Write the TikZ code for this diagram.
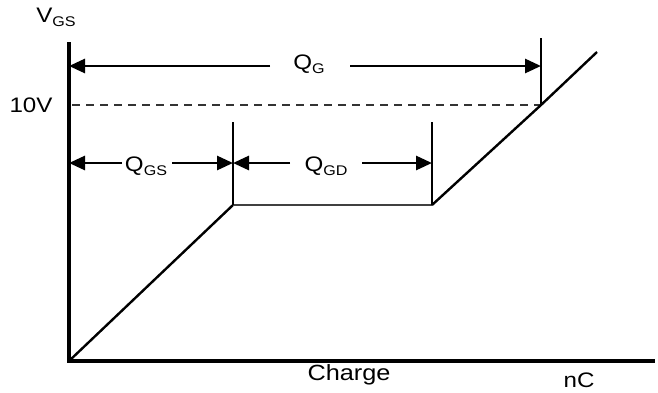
\documentclass[tikz,border=0pt]{standalone}
\usepackage{fontspec}
\setmainfont{Liberation Sans}[FakeStretch=1.15]
\usetikzlibrary{arrows.meta}
\newcommand{\lowsub}[1]{\raisebox{-4pt}{\fontsize{14}{14}\selectfont #1}}
\begin{document}
\begin{tikzpicture}[x=1pt,y=-1pt,
  axis/.style={line width=3.4pt},
  dim/.style={line width=2.8pt,-{Triangle[length=16pt,width=14pt]}},
  tickline/.style={line width=2.8pt},
  curve/.style={line width=2.4pt,line join=round},
  plateau/.style={line width=1.8pt,black!75},
  guide/.style={dash pattern=on 8pt off 6pt,line width=2.2pt,black!80},
  lab/.style={font=\fontsize{21}{21}\selectfont,inner sep=0pt}]
\useasboundingbox (0,0) rectangle (658,392);
% coordinates
\coordinate (O) at (69,361);
\coordinate (Ytop) at (69,42);
\coordinate (Xend) at (655,361);
\coordinate (P1) at (233,205);
\coordinate (P2) at (432,205);
\coordinate (P3) at (541,105);
\coordinate (P4) at (597,52);
\coordinate (T1) at (233,122);
\coordinate (T2) at (432,122);
\coordinate (TG) at (541,38);
\coordinate (D0) at (72,105);
\coordinate (YG) at (69,66);
\coordinate (YS) at (69,163);
\coordinate (M1) at (233,163);
\coordinate (M2) at (432,163);
\coordinate (MG) at (541,66);
% labels
\node[lab] (vgs) at (56,17) {V\lowsub{GS}};
\node[lab] (tenv) at (31,105) {10V};
\node[lab] (qg) at (309,64) {Q\lowsub{G}};
\node[lab] (qgs) at (146,166) {Q\lowsub{GS}};
\node[lab] (qgd) at (326,166) {Q\lowsub{GD}};
\node[lab,font=\fontsize{22}{22}\selectfont] (charge) at (349,375) {Charge};
\node[lab] (nc) at (579,380) {nC};
% axes
\draw[axis] (Ytop) -- (O) -- (Xend);
% dashed 10V line
\draw[guide] (D0) -- (P3);
% gate charge curve
\draw[curve] (O) -- (P1);
\draw[plateau] (P1) -- (P2);
\draw[curve] (P2) -- (P3) -- (P4);
% ticks
\draw[tickline] (T1) -- (P1);
\draw[tickline] (T2) -- (P2);
\draw[tickline] (TG) -- (P3);
% dimension arrows
\draw[dim] (270,66) -- (YG);
\draw[dim] (350,66) -- (MG);
\draw[dim] (122,163) -- (YS);
\draw[dim] (172,163) -- (M1);
\draw[dim] (290,163) -- (M1);
\draw[dim] (362,163) -- (M2);
\end{tikzpicture}
\end{document}
